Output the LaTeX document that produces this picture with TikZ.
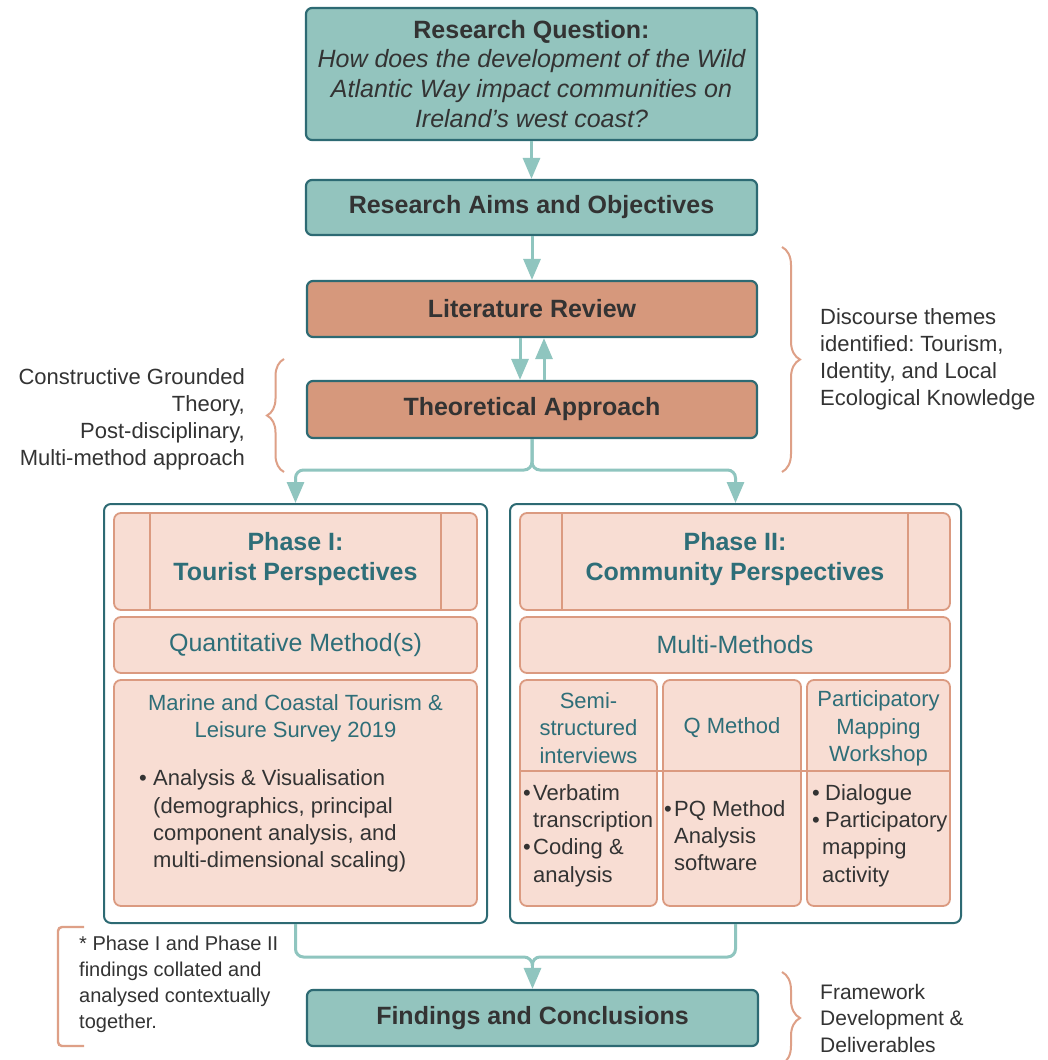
\documentclass[tikz,border=0pt]{standalone}
\usepackage{fontspec}
\setmainfont{Liberation Sans}
\usetikzlibrary{arrows.meta,decorations.pathreplacing,calc}
\definecolor{tealfill}{RGB}{147,196,190}
\definecolor{darkteal}{RGB}{45,106,115}
\definecolor{salmonfill}{RGB}{214,152,124}
\definecolor{pinkfill}{RGB}{248,221,211}
\definecolor{pinkborder}{RGB}{219,154,128}
\definecolor{tealtext}{RGB}{46,110,120}
\definecolor{arrowcol}{RGB}{143,197,191}
\definecolor{textdark}{RGB}{51,51,51}
\definecolor{bracecol}{RGB}{222,160,135}
\newcommand\myfa{\fontsize{25}{30}\selectfont}
\newcommand\myfb{\fontsize{22}{27.3}\selectfont}
\newcommand\myfc{\fontsize{22}{27}\selectfont}
\newcommand\myfd{\fontsize{20}{26}\selectfont}
\newcommand\myfe{\fontsize{21}{26.5}\selectfont}
\newcommand\bul[1]{\makebox[#1][l]{•}}
\frenchspacing
\begin{document}
\begin{tikzpicture}[x=1pt,y=-1pt,
  mainbox/.style={draw=darkteal, line width=2.2pt, rounded corners=6pt, fill=tealfill,
    text=textdark, font=\myfa\bfseries, align=center, inner sep=0pt},
  salbox/.style={mainbox, fill=salmonfill},
  outerbox/.style={draw=darkteal, line width=2pt, rounded corners=7pt, fill=white, inner sep=0pt},
  pbox/.style={draw=pinkborder, line width=1.8pt, rounded corners=7pt, fill=pinkfill,
    text=tealtext, align=center, inner sep=0pt, font=\myfa},
  tealtxt/.style={text=tealtext, align=center, inner sep=0pt, font=\myfb},
  bodytxt/.style={text=textdark, align=left, inner sep=0pt, font=\myfb, anchor=west},
  note/.style={text=textdark, inner sep=0pt},
  conn/.style={draw=arrowcol, line width=3pt},
  arr/.style={conn, -{Triangle[width=17pt,length=21pt]}},
  bracedeco/.style={draw=bracecol, line width=2pt, decorate},
]
\fill[white] (0,0) rectangle (1048,1060);
\useasboundingbox (0,0) rectangle (1048,1060);

% main boxes
\node[mainbox, minimum width=451pt, minimum height=132pt] (rq) at (531.5,74)
  {Research Question:\\[-1pt] {\mdseries\itshape How does the development of the Wild}\\
   {\mdseries\itshape Atlantic Way impact communities on}\\
   {\mdseries\itshape Ireland{\char"0027}s west coast?}};
\node[mainbox, minimum width=451pt, minimum height=55pt] (aims) at (531.5,207.5) {Research Aims and Objectives};
\node[salbox, minimum width=450pt, minimum height=56pt] (lit) at (532,309) {Literature Review};
\node[salbox, minimum width=450pt, minimum height=57pt] (theo) at (532,409.5) {Theoretical Approach};
\node[mainbox, minimum width=451pt, minimum height=56pt] (find) at (532.5,1018) {Findings and Conclusions};

% phase outer boxes
\node[outerbox, minimum width=383pt, minimum height=419pt] (p1) at (295.5,713.5) {};
\node[outerbox, minimum width=451pt, minimum height=419pt] (p2) at (735.5,713.5) {};

% Phase I
\node[pbox, minimum width=363pt, minimum height=97pt] (h1) at (295.5,561.5) {};
\draw[pinkborder, line width=1.8pt] ([xshift=37pt]h1.north west) -- ([xshift=37pt]h1.south west);
\draw[pinkborder, line width=1.8pt] ([xshift=-37pt]h1.north east) -- ([xshift=-37pt]h1.south east);
\node[tealtxt, font=\myfa\bfseries] (h1t) at (295.5,559) {Phase I:\\Tourist Perspectives};
\node[pbox, minimum width=363pt, minimum height=56pt] (q1) at (295.5,645) {Quantitative Method(s)};
\node[pbox, minimum width=363pt, minimum height=226pt] (s1) at (295.5,793) {};
\node[tealtxt] (s1t) at (295.5,718) {Marine and Coastal Tourism \&\\Leisure Survey 2019};
\node[bodytxt] (s1b) at (139,821) {\bul{14pt}Analysis \& Visualisation\\
  \hspace*{14pt}(demographics, principal\\
  \hspace*{14pt}component analysis, and\\
  \hspace*{14pt}multi-dimensional scaling)};

% Phase II
\node[pbox, minimum width=430pt, minimum height=97pt] (h2) at (735,561.5) {};
\draw[pinkborder, line width=1.8pt] ([xshift=43pt]h2.north west) -- ([xshift=43pt]h2.south west);
\draw[pinkborder, line width=1.8pt] ([xshift=-43pt]h2.north east) -- ([xshift=-43pt]h2.south east);
\node[tealtxt, font=\myfa\bfseries] (h2t) at (735,559) {Phase II:\\Community Perspectives};
\node[pbox, minimum width=430pt, minimum height=56pt] (m2) at (735,645) {Multi-Methods};
\node[pbox, minimum width=137pt, minimum height=226pt] (c1) at (588.5,793) {};
\node[pbox, minimum width=138pt, minimum height=226pt] (c2) at (732,793) {};
\node[pbox, minimum width=143pt, minimum height=226pt] (c3) at (878.5,793) {};
\draw[pinkborder, line width=1.8pt] (c1.west |- 0,771) -- (c3.east |- 0,771);
\node[tealtxt] (c1h) at (588.5,728) {Semi-\\structured\\interviews};
\node[tealtxt] (c2h) at (732,728) {Q Method};
\node[tealtxt] (c3h) at (878.5,728.5) {Participatory\\Mapping\\Workshop};
\node[bodytxt] (c1b) at (523,835.5) {\bul{10pt}Verbatim\\\hspace*{10pt}transcription\\\bul{10pt}Coding \&\\\hspace*{10pt}analysis};
\node[bodytxt] (c2b) at (664,835.5) {\bul{10pt}PQ Method\\\hspace*{10pt}Analysis\\\hspace*{10pt}software};
\node[bodytxt] (c3b) at (812,835.5) {\bul{13pt}Dialogue\\\bul{13pt}Participatory\\\hspace*{10pt}mapping\\\hspace*{10pt}activity};

% connectors
\draw[arr] (rq.south) -- (aims.north);
\draw[arr] (aims.south -| lit.north) -- (lit.north);
\draw[arr] ([xshift=-12pt]lit.south) -- ([xshift=-12pt]theo.north);
\draw[arr] ([xshift=12pt]theo.north) -- ([xshift=12pt]lit.south);
\coordinate (split) at (532,470);
\draw[arr, rounded corners=8pt] (theo.south) -- (split) -| (p1.north);
\draw[arr, rounded corners=8pt] (theo.south) -- (split) -| (p2.north);
\coordinate (merge) at (532,957);
\draw[conn, rounded corners=8pt] (p1.south) |- (merge) -- (find.north |- 0,966);
\draw[conn, rounded corners=8pt] (p2.south) |- (merge) -- (find.north |- 0,966);
\draw[arr] (find.north |- 0,964) -- (find.north);

% braces and annotations
\draw[bracedeco, decoration={brace, amplitude=18pt}] (782,247) -- (782,472);
\node[note, font=\myfc, align=left, anchor=west] (disc) at (820,359)
  {Discourse themes\\identified: Tourism,\\Identity, and Local\\Ecological Knowledge};
\draw[bracedeco, decoration={brace, amplitude=17pt}] (284,472) -- (284,359);
\node[note, font=\myfc, align=right, anchor=east] (cgt) at (245,419)
  {Constructive Grounded\\Theory,\\Post-disciplinary,\\Multi-method approach};
\draw[draw=bracecol, line width=2.4pt, rounded corners=4pt] (84,927) -- (58,927) -- (58,1046) -- (84,1046);
\node[note, font=\myfd, align=left, anchor=west] (coll) at (79,984)
  {* Phase I and Phase II\\findings collated and\\analysed contextually\\together.};
\draw[bracedeco, decoration={brace, amplitude=18pt}] (782,972) -- (782,1064);
\node[note, font=\myfe, align=left, anchor=west] (fw) at (820,1018)
  {Framework\\Development \&\\Deliverables};
\end{tikzpicture}
\end{document}
